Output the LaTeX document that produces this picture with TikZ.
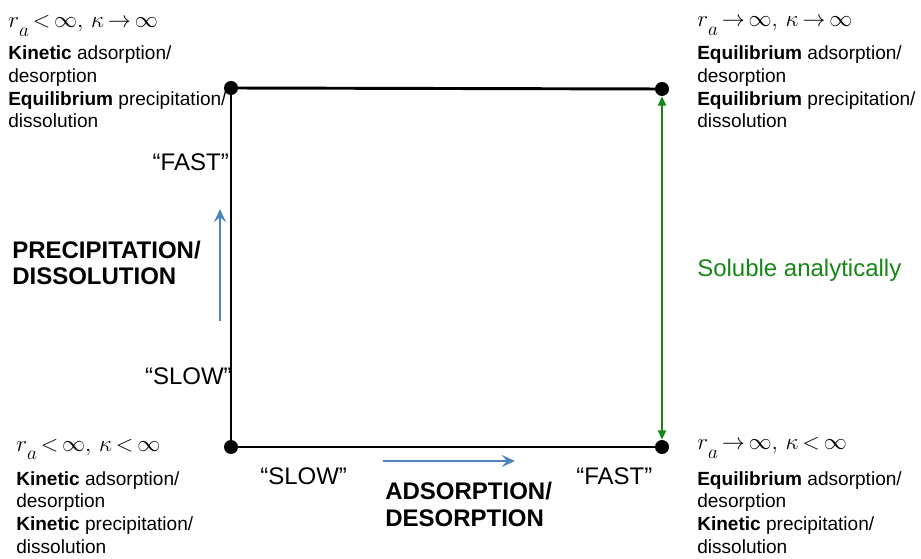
\documentclass[tikz,border=0pt]{standalone}
\usepackage{fontspec}
\setmainfont{Liberation Sans}
\usetikzlibrary{arrows.meta}
\definecolor{pblue}{RGB}{79,129,189}
\definecolor{pgreen}{RGB}{20,135,20}
\newcommand{\cond}[2]{{\fontsize{19}{23}\selectfont\thickmuskip=3mu$r\raisebox{-0.65ex}{$\scriptstyle a$}#1\infty,\,\kappa#2\infty$}}
\tikzset{
  small/.style={font=\fontsize{14.3}{17}\selectfont, align=left, inner sep=0pt},
  big/.style={font=\fontsize{18}{20}\selectfont, inner sep=0pt},
  bigbold/.style={font=\fontsize{18}{20.2}\selectfont\bfseries, align=left, inner sep=0pt},
  mathlbl/.style={inner sep=0pt, anchor=base west},
  dot/.style={circle, fill=black, inner sep=0pt, minimum size=10.5pt},
  edge/.style={line width=2.2pt, black},
  barrow/.style={line width=2pt, pblue, -{Stealth[length=10pt,width=9pt,inset=4pt]}},
  garrow/.style={line width=1.6pt, pgreen, {Triangle[length=7pt,width=6pt]}-{Triangle[length=7pt,width=6pt]}}
}
\begin{document}
\begin{tikzpicture}[x=0.75pt,y=-0.75pt]
\useasboundingbox (0,0) rectangle (921,559);
% corners
\node[dot] (tl) at (231,88) {};
\node[dot] (tr) at (662,89) {};
\node[dot] (bl) at (231,447) {};
\node[dot] (br) at (662,447) {};
\draw[edge] (tl.center) -- (tr.center);
\draw[edge] (tl.center) -- (bl.center);
\draw[edge] (bl.center) -- (br.center);
\draw[garrow] (tr.south) -- (br.north);
% corner texts (anchor = baseline of last line)
\node[mathlbl] (mtl) at (8,28) {\cond{<}{\rightarrow}};
\node[small, anchor=base west] (ttl) at (8,128) {\textbf{Kinetic} adsorption/\\desorption\\\textbf{Equilibrium} precipitation/\\dissolution};
\node[mathlbl] (mtr) at (697,27) {\cond{\rightarrow}{\rightarrow}};
\node[small, anchor=base west] (ttr) at (697,128) {\textbf{Equilibrium} adsorption/\\desorption\\\textbf{Equilibrium} precipitation/\\dissolution};
\node[mathlbl] (mbl) at (16,451) {\cond{<}{<}};
\node[small, anchor=base west] (tbl) at (16,553) {\textbf{Kinetic} adsorption/\\desorption\\\textbf{Kinetic} precipitation/\\dissolution};
\node[mathlbl] (mbr) at (697,450) {\cond{\rightarrow}{<}};
\node[small, anchor=base west] (tbr) at (697,553) {\textbf{Equilibrium} adsorption/\\desorption\\\textbf{Kinetic} precipitation/\\dissolution};
% axis labels
\node[big, anchor=base east] (lfast) at (229,171) {“FAST”};
\node[big, anchor=base east] (lslow) at (232,385) {“SLOW”};
\node[bigbold, anchor=base west] (prec) at (12,285) {PRECIPITATION/\\DISSOLUTION};
\node[big, anchor=base west] (bslow) at (260,484) {“SLOW”};
\node[big, anchor=base west] (bfast) at (576,484) {“FAST”};
\node[bigbold, anchor=base west] (ads) at (385,526) {ADSORPTION/\\DESORPTION};
\node[big, anchor=base west, text=pgreen] (sol) at (697,277) {Soluble analytically};
% blue arrows
\coordinate (va) at (220,321);
\coordinate (vb) at (220,209);
\coordinate (ha) at (383,461);
\coordinate (hb) at (515,461);
\draw[barrow] (va) -- (vb);
\draw[barrow] (ha) -- (hb);
\end{tikzpicture}
\end{document}
